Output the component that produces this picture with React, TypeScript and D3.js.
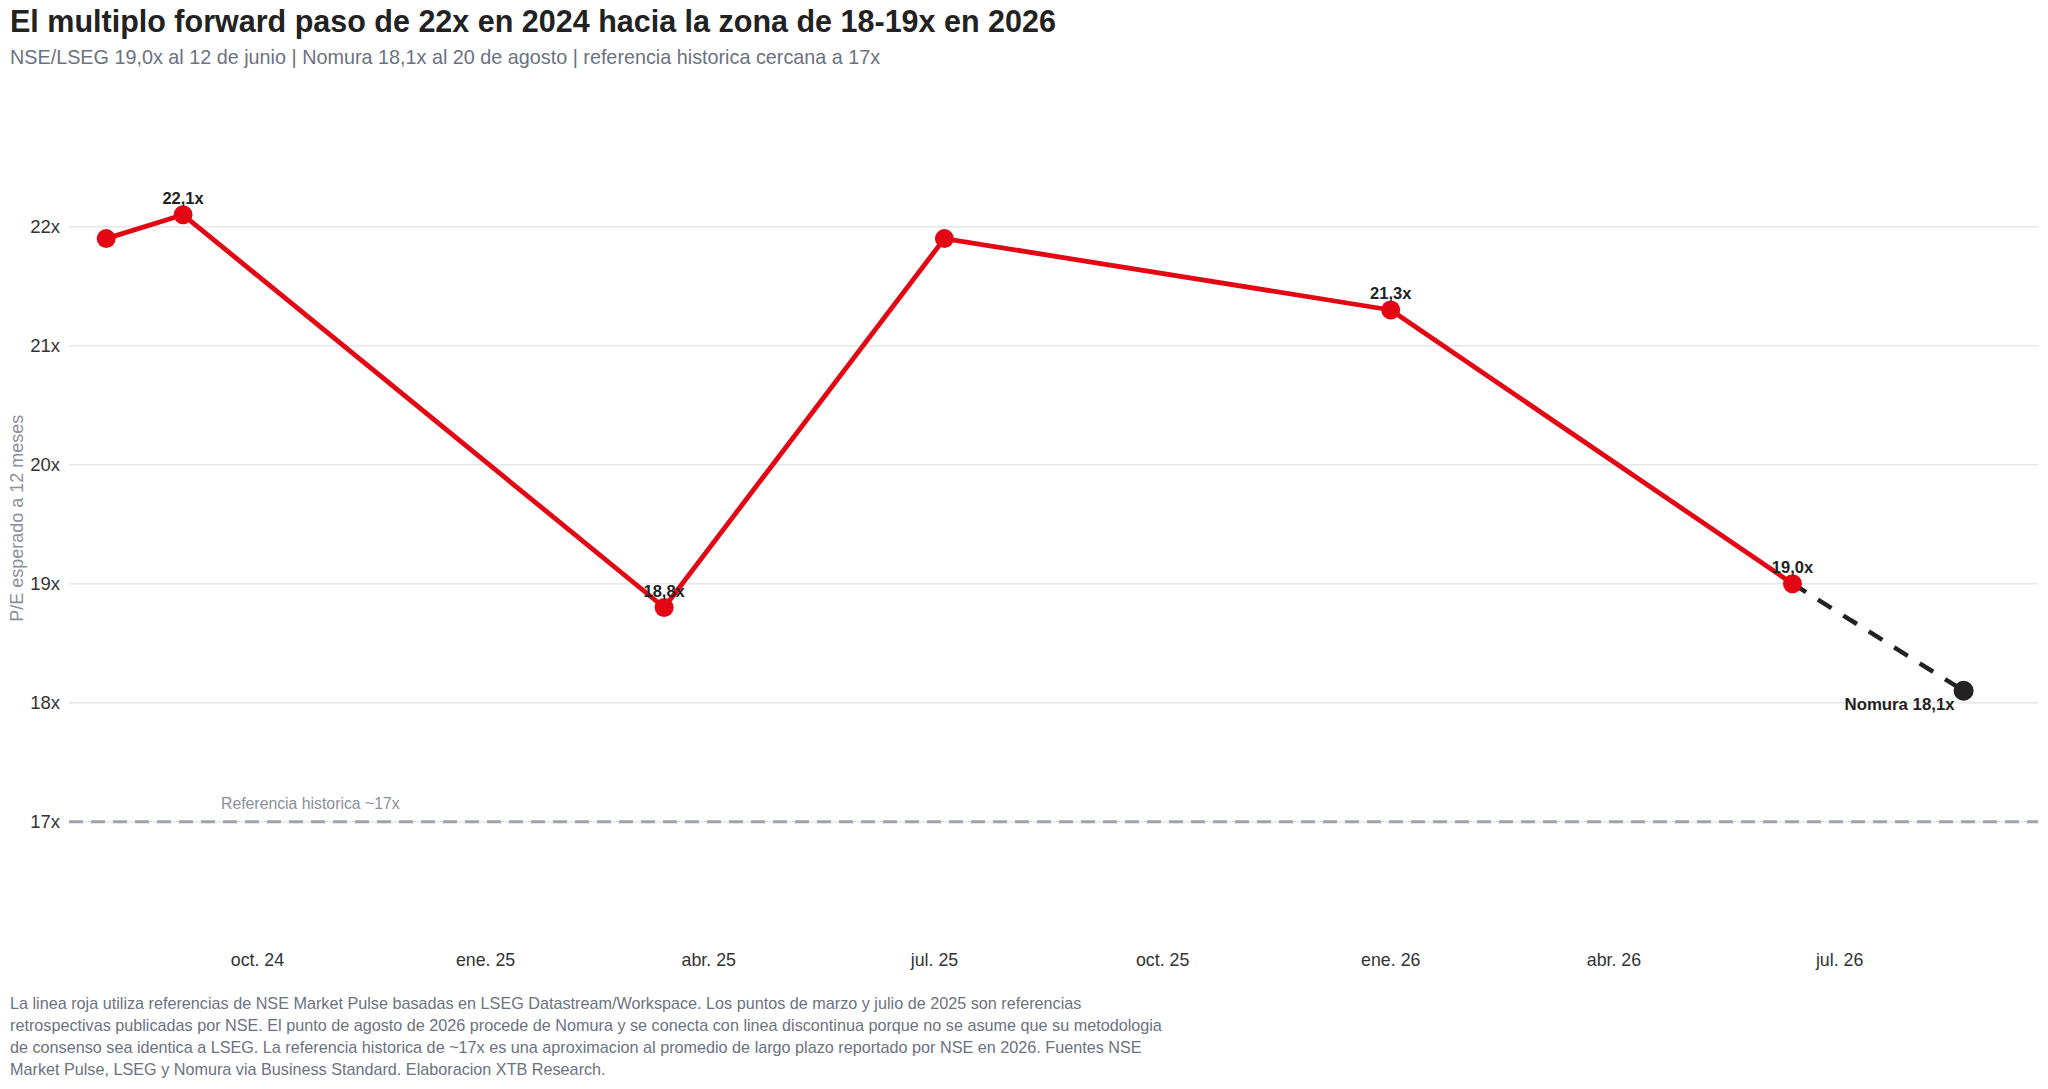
import React from "react";
import * as d3 from "d3";

const redDates = ["2024-08-01", "2024-09-01", "2025-03-14", "2025-07-05", "2026-01-01", "2026-06-12"];
const redValues = [21.9, 22.1, 18.8, 21.9, 21.3, 19.0];
const redLabels = ["", "22,1x", "18,8x", "", "21,3x", "19,0x"];
const nomuraDate = "2026-08-20";
const nomuraValue = 18.1;
const nomuraLabel = "Nomura 18,1x";
const refValue = 17;
const refLabel = "Referencia historica ~17x";
const yTicks = [17, 18, 19, 20, 21, 22];
const xTickDates = ["2024-10-01", "2025-01-01", "2025-04-01", "2025-07-01", "2025-10-01", "2026-01-01", "2026-04-01", "2026-07-01"];
const xTickLabels = ["oct. 24", "ene. 25", "abr. 25", "jul. 25", "oct. 25", "ene. 26", "abr. 26", "jul. 26"];
const title = "El multiplo forward paso de 22x en 2024 hacia la zona de 18-19x en 2026";
const subtitle = "NSE/LSEG 19,0x al 12 de junio | Nomura 18,1x al 20 de agosto | referencia historica cercana a 17x";
const yTitle = "P/E esperado a 12 meses";
const footerLines = [
  "La linea roja utiliza referencias de NSE Market Pulse basadas en LSEG Datastream/Workspace. Los puntos de marzo y julio de 2025 son referencias",
  "retrospectivas publicadas por NSE. El punto de agosto de 2026 procede de Nomura y se conecta con linea discontinua porque no se asume que su metodologia",
  "de consenso sea identica a LSEG. La referencia historica de ~17x es una aproximacion al promedio de largo plazo reportado por NSE en 2026. Fuentes NSE",
  "Market Pulse, LSEG y Nomura via Business Standard. Elaboracion XTB Research.",
];

const parse = d3.timeParse("%Y-%m-%d");
const FONT = "'Liberation Sans', Arial, Helvetica, sans-serif";
const RED = "#E30613";

export default function App() {
  const W = 2048, H = 1089;
  const left = 69, right = 2038;
  const x = d3.scaleTime()
    .domain([parse("2024-07-17")!, parse("2026-09-19")!])
    .range([left, right]);
  const y = d3.scaleLinear().domain([17, 22]).range([821.7, 226.7]);

  const redPts = redDates.map((d, i) => ({ date: parse(d)!, v: redValues[i], label: redLabels[i] }));
  const line = d3.line<{ date: Date; v: number }>().x(d => x(d.date)).y(d => y(d.v));
  const last = redPts[redPts.length - 1];
  const nom = { date: parse(nomuraDate)!, v: nomuraValue };

  return (
    <svg width={W} height={H} style={{ position: "absolute", left: 0, top: 0, display: "block", background: "#fff" }} fontFamily={FONT}>
      <text x={10} y={32} fontSize={30.5} fontWeight="bold" fill="#222">{title}</text>
      <text x={10} y={64} fontSize={19.8} fill="#6b7280">{subtitle}</text>

      {yTicks.map(t => (
        <g key={t}>
          <line x1={left} x2={right} y1={y(t)} y2={y(t)} stroke="#e5e7eb" strokeWidth={1.6} />
          <text x={60} y={y(t)} dy="0.35em" textAnchor="end" fontSize={18.5} fill="#333">{t}x</text>
        </g>
      ))}

      <line x1={left} x2={right} y1={y(refValue)} y2={y(refValue)} stroke="#9ca3af" strokeWidth={3} strokeDasharray="14,8" />
      <text x={221} y={809} fontSize={15.8} fill="#8a8f9c">{refLabel}</text>

      {xTickDates.map((d, i) => (
        <text key={d} x={x(parse(d)!)} y={966} textAnchor="middle" fontSize={17.8} fill="#333">{xTickLabels[i]}</text>
      ))}

      <text transform={`translate(23,${y(19.55)}) rotate(-90)`} textAnchor="middle" fontSize={18} fill="#8a8f9c">{yTitle}</text>

      <path d={line([last, nom]) || ""} fill="none" stroke="#222" strokeWidth={4.5} strokeDasharray="16,14" />
      <path d={line(redPts) || ""} fill="none" stroke={RED} strokeWidth={4.8} strokeLinejoin="round" />
      {redPts.map((p, i) => (
        <circle key={i} cx={x(p.date)} cy={y(p.v)} r={9.5} fill={RED} />
      ))}
      <circle cx={x(nom.date)} cy={y(nom.v)} r={10} fill="#222" />

      {redPts.filter(p => p.label).map((p, i) => (
        <text key={i} x={x(p.date)} y={y(p.v) - 11} textAnchor="middle" fontSize={16.5} fontWeight="bold" fill="#222">{p.label}</text>
      ))}
      <text x={x(nom.date) - 9} y={y(nom.v) + 19} textAnchor="end" fontSize={16.8} fontWeight="bold" fill="#222">{nomuraLabel}</text>

      {footerLines.map((l, i) => (
        <text key={i} x={10} y={1009 + i * 22} fontSize={16.2} fill="#6b7280">{l}</text>
      ))}
    </svg>
  );
}
